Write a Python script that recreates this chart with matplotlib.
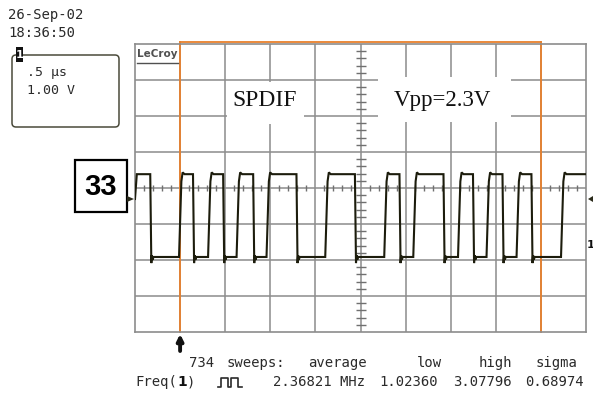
import numpy as np
import matplotlib
matplotlib.use("Agg")
import matplotlib.pyplot as plt
from matplotlib.patches import Rectangle, FancyBboxPatch, Polygon
from matplotlib.lines import Line2D

# ---------------- data ----------------
time_per_div_us = 0.5          # .5 us / div
volts_per_div = 1.0            # 1.00 V / div
n_xdiv, n_ydiv = 10, 8
ground_offset_v = 0.306        # screen centre sits this far above 0 V
high_level_v = 0.69
low_level_v = -1.61
start_level_v = 0.0
# edge times (us), alternating: first edge is a falling edge
edge_times_us = [0.175, 0.504, 0.649, 0.826, 0.983, 1.142, 1.316, 1.474,
                 1.796, 2.125, 2.444, 2.779, 2.938, 3.101, 3.426, 3.597,
                 3.753, 3.913, 4.080, 4.246, 4.401, 4.739]
cursor_times_us = [0.5, 4.5]
trigger_time_us = 0.5

date_text = "26-Sep-02"
time_text = "18:36:50"
tdiv_label = ".5 \u00b5s"
vdiv_label = "1.00 V"
stat_headers = ["734", "sweeps:", "average", "low", "high", "sigma"]
stat_values = ["2.36821 MHz", "1.02360", "3.07796", "0.68974"]
label_spdif = "SPDIF"
label_vpp = "Vpp=2.3V"
label_fig = "33"

# ---------------- figure ----------------
W, H = 593, 394
fig = plt.figure(figsize=(W / 100, H / 100), dpi=100)
fig.patch.set_facecolor("white")

L, R, T, B = 135, 586, 44, 332
ax = fig.add_axes([L / W, (H - B) / H, (R - L) / W, (B - T) / H])
xmax = n_xdiv * time_per_div_us
yc = ground_offset_v
ax.set_xlim(0, xmax)
ax.set_ylim(yc - n_ydiv / 2 * volts_per_div, yc + n_ydiv / 2 * volts_per_div)
ax.set_xticks([]); ax.set_yticks([])
grid_c = "#8c8c8c"
for s in ax.spines.values():
    s.set_color(grid_c); s.set_linewidth(1.2)
for k in range(1, n_xdiv):
    ax.axvline(k * time_per_div_us, color=grid_c, lw=1.1, zorder=1)
for j in range(-n_ydiv // 2 + 1, n_ydiv // 2):
    ax.axhline(yc + j * volts_per_div, color=grid_c, lw=1.1, zorder=1)

# centre graticule minor ticks
px_per_us = (R - L) / xmax
px_per_v = (B - T) / (n_ydiv * volts_per_div)
xt = np.arange(0, xmax + 1e-9, time_per_div_us / 5)
xt = [x for x in xt if abs(x / time_per_div_us - round(x / time_per_div_us)) > 1e-6]
ax.vlines(xt, yc - 3 / px_per_v, yc + 3 / px_per_v, color="#707070", lw=1.0, zorder=1)
yt = yc + np.arange(-n_ydiv / 2, n_ydiv / 2 + 1e-9, volts_per_div / 5)
yt = [y for y in yt if abs((y - yc) / volts_per_div - round((y - yc) / volts_per_div)) > 1e-6]
xmid = xmax / 2
ax.hlines(yt, xmid - 5 / px_per_us, xmid + 5 / px_per_us, color="#707070", lw=1.0, zorder=1)

# cursors
orange = "#e8802c"
ytop_ext = ax.get_ylim()[1] + 2 / px_per_v
for ct in cursor_times_us:
    ax.plot([ct, ct], [ax.get_ylim()[0], ytop_ext], color=orange, lw=1.3,
            zorder=2, clip_on=False)
ax.plot(cursor_times_us, [ytop_ext, ytop_ext], color=orange, lw=1.3, zorder=2, clip_on=False)

# waveform
t = [0.0, 0.02]
v = [start_level_v, high_level_v]
level = high_level_v
for e in edge_times_us:
    if level == high_level_v:
        t += [e - 0.006, e + 0.006, e + 0.012, e + 0.02, e + 0.03]
        v += [high_level_v, low_level_v - 0.17, low_level_v + 0.05, low_level_v - 0.08, low_level_v]
        level = low_level_v
    else:
        t += [e - 0.016, e + 0.01, e + 0.024, e + 0.045]
        v += [low_level_v, high_level_v - 0.2, high_level_v + 0.05, high_level_v]
        level = high_level_v
t.append(xmax)
v.append(level)
ax.plot(t, v, color="#1c1c0c", lw=1.5, zorder=3, solid_joinstyle="miter")

# trigger arrow below the grid
ybot = ax.get_ylim()[0]
ax.annotate("", xy=(trigger_time_us, ybot - 2 / px_per_v),
            xytext=(trigger_time_us, ybot - 19 / px_per_v),
            arrowprops=dict(arrowstyle="-|>", lw=2.8, color="#111111", mutation_scale=9,
                            shrinkA=0, shrinkB=0),
            annotation_clip=False)

# ---------------- overlay in pixel coordinates ----------------
ov = fig.add_axes([0, 0, 1, 1], zorder=5)
ov.set_xlim(0, W); ov.set_ylim(H, 0)
ov.axis("off")
ov.patch.set_alpha(0)

mono = "DejaVu Sans Mono"
dark = "#2a2a2a"
ov.text(8, 15, date_text, family=mono, fontsize=10, color=dark, va="center", ha="left")
ov.text(8, 33, time_text, family=mono, fontsize=10, color=dark, va="center", ha="left")

ov.add_patch(FancyBboxPatch((12, 55), 107, 72, boxstyle="round,pad=0,rounding_size=4",
                            fc="white", ec="#4a4a3a", lw=1.1))
ov.add_patch(Rectangle((16, 47), 7, 15, fc="#111111", ec="none"))
ov.text(19.5, 55, "1", color="white", fontsize=8, fontweight="bold",
        ha="center", va="center", family="DejaVu Sans")
ov.text(27, 72, tdiv_label, family=mono, fontsize=9.5, color=dark, va="center", ha="left")
ov.text(27, 90, vdiv_label, family=mono, fontsize=9.5, color=dark, va="center", ha="left")

# LeCroy logo
ov.text(137, 54, "LeCroy", fontsize=7.5, fontweight="bold", color="#505050",
        va="center", ha="left", family="DejaVu Sans")
ov.add_line(Line2D([137, 178], [63, 63], color="#505050", lw=1.0))

# label boxes
ov.add_patch(Rectangle((227, 82), 77, 42, fc="white", ec="none"))
ov.text(265, 100, label_spdif, family="Liberation Serif", fontsize=17, color="#111111",
        ha="center", va="center")
ov.add_patch(Rectangle((378, 77), 133, 45, fc="white", ec="none"))
ov.text(442, 100, label_vpp, family="Liberation Serif", fontsize=16.5, color="#111111",
        ha="center", va="center")

ov.add_patch(Rectangle((75, 160), 52, 52, fc="white", ec="black", lw=1.6))
ov.text(101, 187, label_fig, family="Liberation Sans", fontweight="bold", fontsize=21,
        color="black", ha="center", va="center")

# ground markers
ov.add_patch(Polygon([[593, 196], [593, 202], [588, 199]], closed=True, fc="#2a2a1a", ec="none"))
ov.add_patch(Polygon([[127, 196], [127, 202], [134, 199]], closed=True, fc="#2a2a1a", ec="none"))
ov.text(586.5, 245, "1", fontsize=8, fontweight="bold", color="#111111", ha="left",
        va="center", family="DejaVu Sans")

# statistics lines
hdr_centers = [202, 256, 337, 429, 495, 556]
for txt, cx in zip(stat_headers, hdr_centers):
    ov.text(cx, 363, txt, family=mono, fontsize=10, color=dark, ha="center", va="center")
ov.text(135, 382, "Freq(", family=mono, fontsize=10, color=dark, ha="left", va="center")
ov.text(182, 382, "1", family="DejaVu Sans", fontweight="bold", fontsize=10, color="#111111",
        ha="center", va="center")
ov.text(187, 382, ")", family=mono, fontsize=10, color=dark, ha="left", va="center")
ov.add_line(Line2D([218, 221, 221, 228, 228, 231, 231, 238, 238, 242],
                   [387, 387, 378, 378, 387, 387, 378, 378, 387, 387],
                   color=dark, lw=1.2))
val_centers = [319, 409, 482, 554]
for txt, cx in zip(stat_values, val_centers):
    ov.text(cx, 382, txt, family=mono, fontsize=10, color=dark, ha="center", va="center")

fig.savefig("out.png", dpi=100)
